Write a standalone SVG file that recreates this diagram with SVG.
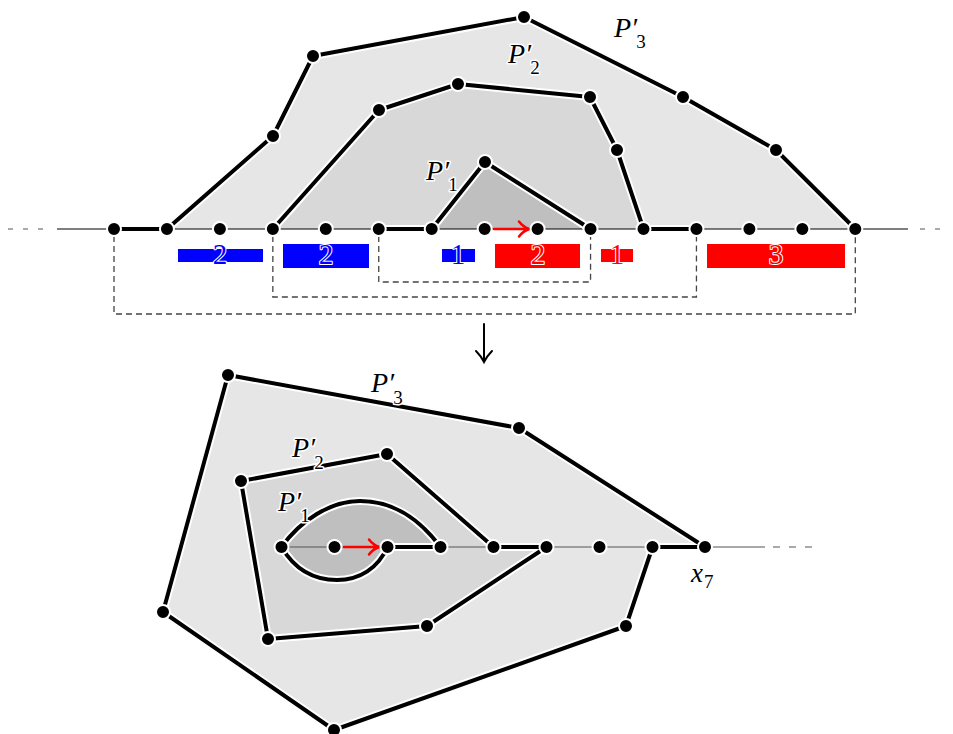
<svg xmlns="http://www.w3.org/2000/svg" xmlns:xlink="http://www.w3.org/1999/xlink" width="953" height="734" viewBox="0 0 953 734">
<style>
.f3{fill:#e6e6e6}
.f2{fill:#d8d8d8}
.f1{fill:#bfbfbf}
.thin{fill:none;stroke:#000;stroke-width:1.2}
.thing{fill:none;stroke:#555;stroke-width:1.2}
.dash{fill:none;stroke:#555;stroke-width:1.2;stroke-dasharray:5 10}
.box{fill:none;stroke:#444;stroke-width:1.3;stroke-dasharray:6 4}
.case{fill:none;stroke:#fff;stroke-width:8;stroke-linejoin:round;stroke-linecap:round}
.ink{fill:none;stroke:#000;stroke-width:4;stroke-linejoin:round;stroke-linecap:butt}
.node{fill:#000;stroke:#fff;stroke-width:2}
.red{fill:none;stroke:#f00;stroke-width:2.5;stroke-linecap:round}
.blk{fill:none;stroke:#000;stroke-width:2;stroke-linecap:round}
.lbl{font-family:"Liberation Serif","DejaVu Serif",serif;font-style:italic;font-size:28px;fill:#000;stroke:#fff;stroke-width:3;paint-order:stroke;stroke-linejoin:round}
.s{font-style:normal;font-size:19px}
.dig{font-family:"Liberation Serif","DejaVu Serif",serif;font-size:29px;text-anchor:middle;stroke:#fff;stroke-width:2;paint-order:stroke;stroke-linejoin:round}
.bl{fill:#00f}
.rd{fill:#f00}
</style>
<defs>
<path id="t3" d="M167,229 L273,136 L313,56 L524,17 L683,97 L776,150 L855.3,229"/>
<path id="t2" d="M272.85,229 L379,110 L458,84 L590,97 L617,150 L643.5,229"/>
<path id="t1" d="M431.7,229 L485,162 L590.55,229"/>
<path id="tb" d="M114,229 L166.95,229 M378.75,229 L431.7,229 M643.5,229 L696.45,229"/>
<path id="b3" d="M705,547 L519,428 L228,375 L163,612 L334,730 L626,626 L652.5,547"/>
<path id="b2" d="M493.5,547 L387,454 L241,481 L268,639 L427,626 L546.5,547"/>
<path id="b1" d="M281.5,547 C300,521 330,501 360,501 C395,501 420,520 440.5,547 M387.5,547 C378,568 360,580 337,580 C315,580 295,570 281.5,547"/>
<path id="bb" d="M387.5,547 L440.5,547 M493.5,547 L546.5,547 M652.5,547 L705,547"/>
</defs>

<g id="fills">
<polygon class="f3" points="167,229 273,136 313,56 524,17 683,97 776,150 855.3,229"/>
<polygon class="f2" points="272.85,229 379,110 458,84 590,97 617,150 643.5,229"/>
<polygon class="f1" points="431.7,229 485,162 590.55,229"/>
<polygon class="f3" points="228,375 519,428 705,547 652.5,547 626,626 334,730 163,612"/>
<polygon class="f2" points="241,481 387,454 493.5,547 546.5,547 427,626 268,639"/>
<path class="f1" d="M281.5,547 C300,521 330,501 360,501 C395,501 420,520 440.5,547 L387.5,547 C378,568 360,580 337,580 C315,580 295,570 281.5,547 Z"/>
</g>

<g id="connectors">
<path class="dash" d="M8,229 L46,229"/>
<path class="thin" d="M57,229 L908,229"/>
<path class="dash" d="M920,229 L948,229"/>
<path class="thing" d="M281.5,547 L765,547"/>
<path class="thing" d="M773,547 L812,547" style="stroke-dasharray:7 9"/>
<path class="box" d="M114,236 L114,314 L855.3,314 L855.3,236"/>
<path class="box" d="M272.85,236 L272.85,297 L696.45,297 L696.45,236"/>
<path class="box" d="M378.75,236 L378.75,282 L590.55,282 L590.55,236"/>
<g class="case">
<use xlink:href="#t3"/><use xlink:href="#t2"/><use xlink:href="#t1"/><use xlink:href="#tb"/>
<use xlink:href="#b3"/><use xlink:href="#b2"/><use xlink:href="#b1"/><use xlink:href="#bb"/>
</g>
<g class="ink">
<use xlink:href="#t3"/><use xlink:href="#t2"/><use xlink:href="#t1"/><use xlink:href="#tb"/>
<use xlink:href="#b3"/><use xlink:href="#b2"/><use xlink:href="#b1"/><use xlink:href="#bb"/>
</g>
<path class="red" d="M494,229 L528,229 M519,221.5 Q523,227 529.5,229 Q523,231 519,236.5"/>
<path class="red" d="M344,547 L378,547 M369,539.5 Q373,545 379.5,547 Q373,549 369,554.5"/>
<path class="blk" d="M484,324 L484,361 M476,351 Q481,356 484,362 Q487,356 492,351"/>
</g>

<g id="bars">
<rect class="bl" x="178" y="249" width="85" height="13"/>
<text class="dig bl" x="220" y="264">2</text>
<rect class="bl" x="283" y="244" width="86" height="24"/>
<text class="dig bl" x="326" y="264">2</text>
<rect class="bl" x="442" y="249" width="33" height="13"/>
<text class="dig bl" x="458" y="264">1</text>
<rect class="rd" x="495" y="244" width="85" height="24"/>
<text class="dig rd" x="538" y="264">2</text>
<rect class="rd" x="601" y="249" width="32" height="13"/>
<text class="dig rd" x="617" y="264">1</text>
<rect class="rd" x="707" y="244" width="138" height="24"/>
<text class="dig rd" x="776" y="264">3</text>
</g>

<g id="nodes-top">
<circle class="node" cx="114" cy="229" r="7"/>
<circle class="node" cx="166.95" cy="229" r="7"/>
<circle class="node" cx="219.9" cy="229" r="7"/>
<circle class="node" cx="272.85" cy="229" r="7"/>
<circle class="node" cx="325.8" cy="229" r="7"/>
<circle class="node" cx="378.75" cy="229" r="7"/>
<circle class="node" cx="431.7" cy="229" r="7"/>
<circle class="node" cx="484.65" cy="229" r="7"/>
<circle class="node" cx="537.6" cy="229" r="7"/>
<circle class="node" cx="590.55" cy="229" r="7"/>
<circle class="node" cx="643.5" cy="229" r="7"/>
<circle class="node" cx="696.45" cy="229" r="7"/>
<circle class="node" cx="749.4" cy="229" r="7"/>
<circle class="node" cx="802.35" cy="229" r="7"/>
<circle class="node" cx="855.3" cy="229" r="7"/>
<circle class="node" cx="273" cy="136" r="7"/>
<circle class="node" cx="313" cy="56" r="7"/>
<circle class="node" cx="524" cy="17" r="7"/>
<circle class="node" cx="683" cy="97" r="7"/>
<circle class="node" cx="776" cy="150" r="7"/>
<circle class="node" cx="379" cy="110" r="7"/>
<circle class="node" cx="458" cy="84" r="7"/>
<circle class="node" cx="590" cy="97" r="7"/>
<circle class="node" cx="617" cy="150" r="7"/>
<circle class="node" cx="485" cy="162" r="7"/>
</g>

<g id="nodes-bottom">
<circle class="node" cx="281.5" cy="547" r="7"/>
<circle class="node" cx="334.5" cy="547" r="7"/>
<circle class="node" cx="387.5" cy="547" r="7"/>
<circle class="node" cx="440.5" cy="547" r="7"/>
<circle class="node" cx="493.5" cy="547" r="7"/>
<circle class="node" cx="546.5" cy="547" r="7"/>
<circle class="node" cx="599.5" cy="547" r="7"/>
<circle class="node" cx="652.5" cy="547" r="7"/>
<circle class="node" cx="705" cy="547" r="7"/>
<circle class="node" cx="228" cy="375" r="7"/>
<circle class="node" cx="519" cy="428" r="7"/>
<circle class="node" cx="626" cy="626" r="7"/>
<circle class="node" cx="334" cy="730" r="7"/>
<circle class="node" cx="163" cy="612" r="7"/>
<circle class="node" cx="241" cy="481" r="7"/>
<circle class="node" cx="387" cy="454" r="7"/>
<circle class="node" cx="427" cy="626" r="7"/>
<circle class="node" cx="268" cy="639" r="7"/>
</g>

<g id="labels">
<text class="lbl" x="614" y="37">P′<tspan class="s" dx="-1" dy="11">3</tspan></text>
<text class="lbl" x="508" y="63">P′<tspan class="s" dx="-1" dy="11">2</tspan></text>
<text class="lbl" x="426" y="180">P′<tspan class="s" dx="-1" dy="11">1</tspan></text>
<text class="lbl" x="371" y="392">P′<tspan class="s" dx="-1" dy="12">3</tspan></text>
<text class="lbl" x="292" y="457">P′<tspan class="s" dx="-1" dy="12">2</tspan></text>
<text class="lbl" x="278" y="511">P′<tspan class="s" dx="-1" dy="11">1</tspan></text>
<text class="lbl" x="691" y="582" style="font-size:27px">x<tspan class="s" dx="1" dy="6">7</tspan></text>
</g>
</svg>
